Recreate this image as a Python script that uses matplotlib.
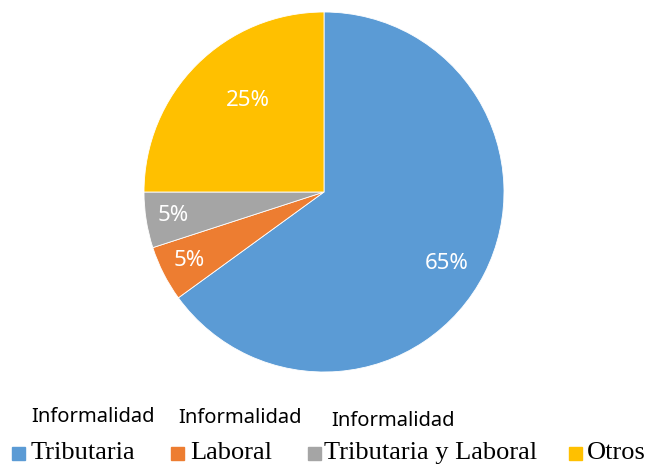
import numpy as np
import matplotlib.pyplot as plt
from matplotlib.patches import Rectangle

# data
categorias = ["Tributaria", "Laboral", "Tributaria y Laboral", "Otros"]
prefijos = ["Informalidad", "Informalidad", "Informalidad", ""]
valores = [65, 5, 5, 25]
colores = ["#5b9bd5", "#ed7d31", "#a5a5a5", "#ffc000"]

W, H = 646, 466
fig = plt.figure(figsize=(W / 100, H / 100), dpi=100)

# pie centre (324, 192) px from top, radius 180 px
cx, cy, r = 324, 192, 180
ax = fig.add_axes([(cx - r) / W, (H - cy - r) / H, 2 * r / W, 2 * r / H])
wedges, texts, autotexts = ax.pie(valores, colors=colores, startangle=90,
                                  counterclock=False, autopct="%1.0f%%",
                                  pctdistance=0.75,
                                  wedgeprops=dict(edgecolor="white", linewidth=0.6),
                                  textprops=dict(color="white", fontsize=16,
                                                 family="Noto Sans"))
ax.set_xlim(-1, 1)
ax.set_ylim(-1, 1)
ax.set_aspect("equal")

# label distances/angles as Excel placed them
dist = [0.79, 0.84, 0.85, 0.66]
shift = [-3, 0, 0, -5]
ang = 90.0
for t, d, s, v in zip(autotexts, dist, shift, valores):
    mid = np.deg2rad(ang - v * 3.6 / 2 + s)
    t.set_position((d * np.cos(mid), d * np.sin(mid)))
    ang -= v * 3.6

# manual legend (two-line labels with mixed fonts)
sq_x = [12, 171, 308, 569]
txt_x = [31, 190, 324, 587]
pre_x = [31, 178, 331, None]
pre_y = [417, 418, 421, None]
for i in range(len(categorias)):
    fig.patches.append(Rectangle((sq_x[i] / W, (H - 460) / H), 13 / W, 13 / H,
                                 transform=fig.transFigure, color=colores[i]))
    fig.text(txt_x[i] / W, (H - 453) / H, categorias[i], family="Liberation Serif",
             fontsize=19, va="center", ha="left")
    if prefijos[i]:
        fig.text(pre_x[i] / W, (H - pre_y[i]) / H, prefijos[i], family="Noto Sans",
                 fontsize=14.5, va="center", ha="left")

fig.savefig("out.png", dpi=100)
